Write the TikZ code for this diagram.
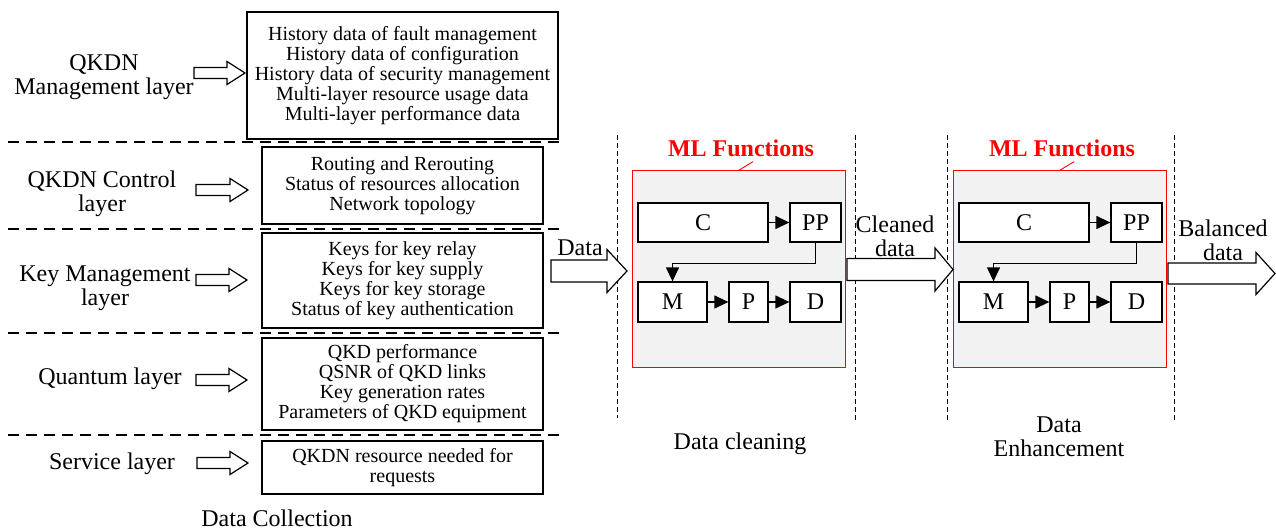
\documentclass[tikz,border=0pt]{standalone}
\usepackage{fontspec}
\setmainfont{Liberation Serif}
\usetikzlibrary{arrows.meta,calc}
\definecolor{mlred}{RGB}{255,0,0}
\definecolor{mlgray}{RGB}{242,242,242}

% hollow block arrow: tail x, axis y, length, shaft half-height, head half-height, head length
\newcommand{\fatarrow}[6]{%
  \draw[fatarrow] (#1,#2-#4) -- (#1+#3-#6,#2-#4) -- (#1+#3-#6,#2-#5) -- (#1+#3,#2)
    -- (#1+#3-#6,#2+#5) -- (#1+#3-#6,#2+#4) -- (#1,#2+#4) -- cycle;}

\tikzset{
  databox/.style={draw, line width=1.3pt, align=center, inner sep=0pt,
    font=\fontsize{20}{20}\selectfont},
  layerlabel/.style={align=center, inner sep=0pt, font=\fontsize{24}{24}\selectfont},
  sepline/.style={line width=1.3pt, dash pattern=on 11pt off 7pt},
  stageline/.style={line width=1pt, dash pattern=on 5pt off 3pt},
  fatarrow/.style={draw, line width=1.2pt, fill=white, line join=miter},
  mlframe/.style={draw=mlred, fill=mlgray, line width=1pt, inner sep=0pt},
  mltitle/.style={text=mlred, inner sep=0pt, font=\bfseries\fontsize{24}{24}\selectfont},
  leader/.style={draw=mlred, line width=0.9pt},
  stepnode/.style={draw, fill=white, line width=1.3pt, inner sep=0pt,
    font=\fontsize{24}{24}\selectfont},
  flow/.style={line width=1.3pt, -{Triangle[length=14pt,width=13pt]}},
}

\begin{document}
\begin{tikzpicture}[x=1pt, y=-1pt]
\useasboundingbox (0,0) rectangle (1276,529);

% ---- data collection column ----
\node[databox, minimum width=311pt, minimum height=127pt] (Bmgmt) at (402.5,75.5)
  {History data of fault management\\History data of configuration\\History data of security management\\Multi-layer resource usage data\\Multi-layer performance data};
\node[databox, minimum width=281pt, minimum height=77pt] (Bctrl) at (402.5,185.5)
  {Routing and Rerouting\\Status of resources allocation\\Network topology};
\node[databox, minimum width=281pt, minimum height=95pt] (Bkey) at (402.5,280.5)
  {Keys for key relay\\Keys for key supply\\Keys for key storage\\Status of key authentication};
\node[databox, minimum width=281pt, minimum height=92pt] (Bq) at (402.5,384)
  {QKD performance\\QSNR of QKD links\\Key generation rates\\Parameters of QKD equipment};
\node[databox, minimum width=281pt, minimum height=53pt] (Bs) at (402.5,467.5)
  {QKDN resource needed for\\requests};

\node[layerlabel] (Lmgmt) at (104,77) {QKDN\\Management layer};
\node[layerlabel] (Lctrl) at (102,194) {QKDN Control\\layer};
\node[layerlabel] (Lkey) at (105,288) {Key Management\\layer};
\node[layerlabel] (Lq) at (110,379) {Quantum layer};
\node[layerlabel] (Ls) at (112,464) {Service layer};

\fatarrow{194}{73}{51}{5.5}{11.5}{18}
\fatarrow{196}{190}{52}{5.5}{11.5}{18}
\fatarrow{196}{280}{51}{5.5}{11.5}{18}
\fatarrow{196}{380}{51}{5.5}{11.5}{18}
\fatarrow{197}{463}{51}{5.5}{11.5}{18}

\draw[sepline] (8,142) -- (560,142);
\draw[sepline] (8,229) -- (560,229);
\draw[sepline] (8,333) -- (560,333);
\draw[sepline] (8,435) -- (560,435);

\node[layerlabel] (Tcol) at (277,518) {Data Collection};

% ---- stage separators ----
\draw[stageline] (617,135) -- (617,418);
\draw[stageline] (855,135) -- (855,420);
\draw[stageline] (947,135) -- (947,420);
\draw[stageline] (1174,135) -- (1174,420);

% ---- ML function blocks ----
\foreach \i/\dx in {1/0,2/321}{
  \begin{scope}[xshift=\dx pt]
    \node[mlframe, minimum width=213pt, minimum height=196pt] (F\i) at (738.5,269) {};
    \node[stepnode, minimum width=130pt, minimum height=39pt] (C\i) at (703,222.5) {C};
    \node[stepnode, minimum width=51pt, minimum height=39pt] (PP\i) at (815.5,222.5) {PP};
    \node[stepnode, minimum width=69pt, minimum height=40pt] (M\i) at (672.5,302) {M};
    \node[stepnode, minimum width=39pt, minimum height=40pt] (P\i) at (748.5,302) {P};
    \node[stepnode, minimum width=51pt, minimum height=40pt] (D\i) at (815.5,302) {D};
    \draw[flow] (C\i) -- (PP\i);
    \draw[flow] (PP\i.south) -- ++(0,21) -| (M\i.north);
    \draw[flow] (M\i) -- (P\i);
    \draw[flow] (P\i) -- (D\i);
    \node[mltitle] (T\i) at (741,148) {ML Functions};
    \draw[leader] ($(T\i.south)+(12,5)$) -- (F\i.north);
  \end{scope}
}

% ---- flow between stages ----
\fatarrow{551}{271}{76}{11}{21.5}{20}
\fatarrow{847}{269.5}{106}{11}{21.5}{18}
\fatarrow{1168}{273.5}{107}{10.5}{21}{19}

\node[layerlabel] (Ldata) at (580,248) {Data};
\node[layerlabel] (Lclean) at (895,236) {Cleaned\\data};
\node[layerlabel] (Lbal) at (1223,240) {Balanced\\data};
\node[layerlabel] (Sclean) at (740,444) {Data cleaning};
\node[layerlabel] (Senh) at (1059,437) {Data\\Enhancement};
\end{tikzpicture}
\end{document}
